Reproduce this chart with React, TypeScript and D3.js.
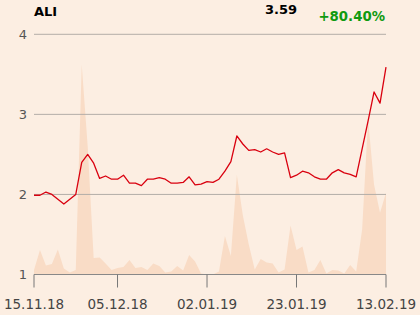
import React from "react";
import * as d3 from "d3";

const title = "ALI";
const lastLabel = "3.59";
const changeLabel = "+80.40%";

const prices = [
  1.99, 1.99, 2.03, 2.0, 1.94, 1.88, 1.94, 2.0, 2.4, 2.5,
  2.39, 2.2, 2.23, 2.19, 2.19, 2.24, 2.14, 2.14, 2.11, 2.19,
  2.19, 2.21, 2.19, 2.14, 2.14, 2.15, 2.22, 2.12, 2.13, 2.16,
  2.15, 2.19, 2.29, 2.41, 2.73, 2.63, 2.55, 2.56, 2.53, 2.57,
  2.53, 2.5, 2.52, 2.21, 2.24, 2.29, 2.27, 2.22, 2.19, 2.19,
  2.27, 2.31, 2.27, 2.25, 2.22, 2.57, 2.92, 3.28, 3.14, 3.59,
];

const volumes = [
  4.5, 24.5, 9, 10.5, 25, 6, 2, 4.5, 209.5, 128,
  16.5, 17, 11, 4.5, 6.5, 7.5, 14.5, 6.5, 7.5, 4.5,
  11, 8.5, 2, 3, 8.5, 4, 19.5, 13, 1, 0,
  0, 3, 38.5, 18.5, 99.5, 59, 30, 5, 15.5, 12,
  11, 2, 5, 49, 24.5, 28, 2, 4.5, 14.5, 1,
  4.5, 4, 1, 9.5, 3, 45, 155, 89.5, 61.5, 81.5,
];

const xTickIndex = [0, 14, 29, 44, 59];
const xTickLabels = ["15.11.18", "05.12.18", "02.01.19", "23.01.19", "13.02.19"];
const yTicks = [1, 2, 3, 4];

const W = 420;
const H = 315;
const left = 34;
const right = 386;
const top = 34.3;
const bottom = 274.5;

export default function App() {
  const x = d3.scaleLinear().domain([0, prices.length - 1]).range([left, right]);
  const y = d3.scaleLinear().domain([1, 4]).range([bottom, top]);
  const yv = d3.scaleLinear().domain([0, 209.5]).range([bottom, 64.5]);

  const area = d3
    .area<number>()
    .x((_, i) => x(i))
    .y0(bottom)
    .y1((d) => yv(d));
  const line = d3
    .line<number>()
    .x((_, i) => x(i))
    .y((d) => y(d));

  const font = "'DejaVu Sans', sans-serif";

  return (
    <svg
      width={W}
      height={H}
      style={{ position: "absolute", left: 0, top: 0, display: "block" }}
      fontFamily={font}
    >
      <rect x={0} y={0} width={W} height={H} fill="#FCEEE2" />
      <path d={area(volumes) || ""} fill="#F9DCC6" />
      {yTicks.slice(1).map((t) => (
        <line key={t} x1={left} x2={right} y1={y(t)} y2={y(t)} stroke="#B3ADA8" strokeWidth={1} />
      ))}
      {yTicks.map((t) => (
        <text key={"l" + t} x={27} y={y(t) + 4.5} textAnchor="end" fontSize={13} fill="#555">
          {t}
        </text>
      ))}
      <line x1={left} x2={right} y1={bottom} y2={bottom} stroke="#888" strokeWidth={1} />
      {xTickIndex.map((idx, k) => (
        <g key={idx}>
          <line x1={x(idx)} x2={x(idx)} y1={bottom} y2={bottom + 13} stroke="#777" strokeWidth={1} />
          <text x={x(idx)} y={309} textAnchor="middle" fontSize={13.5} fill="#444">
            {xTickLabels[k]}
          </text>
        </g>
      ))}
      <path d={line(prices) || ""} fill="none" stroke="#D9000F" strokeWidth={1.3} strokeLinejoin="round" />
      <text x={34} y={15.5} fontSize={13} fontWeight="bold" fill="#000">
        {title}
      </text>
      <text x={297} y={14} textAnchor="end" fontSize={13} fontWeight="bold" fill="#000">
        {lastLabel}
      </text>
      <text x={385} y={21} textAnchor="end" fontSize={13.3} fontWeight="bold" fill="#109A10">
        {changeLabel}
      </text>
    </svg>
  );
}
